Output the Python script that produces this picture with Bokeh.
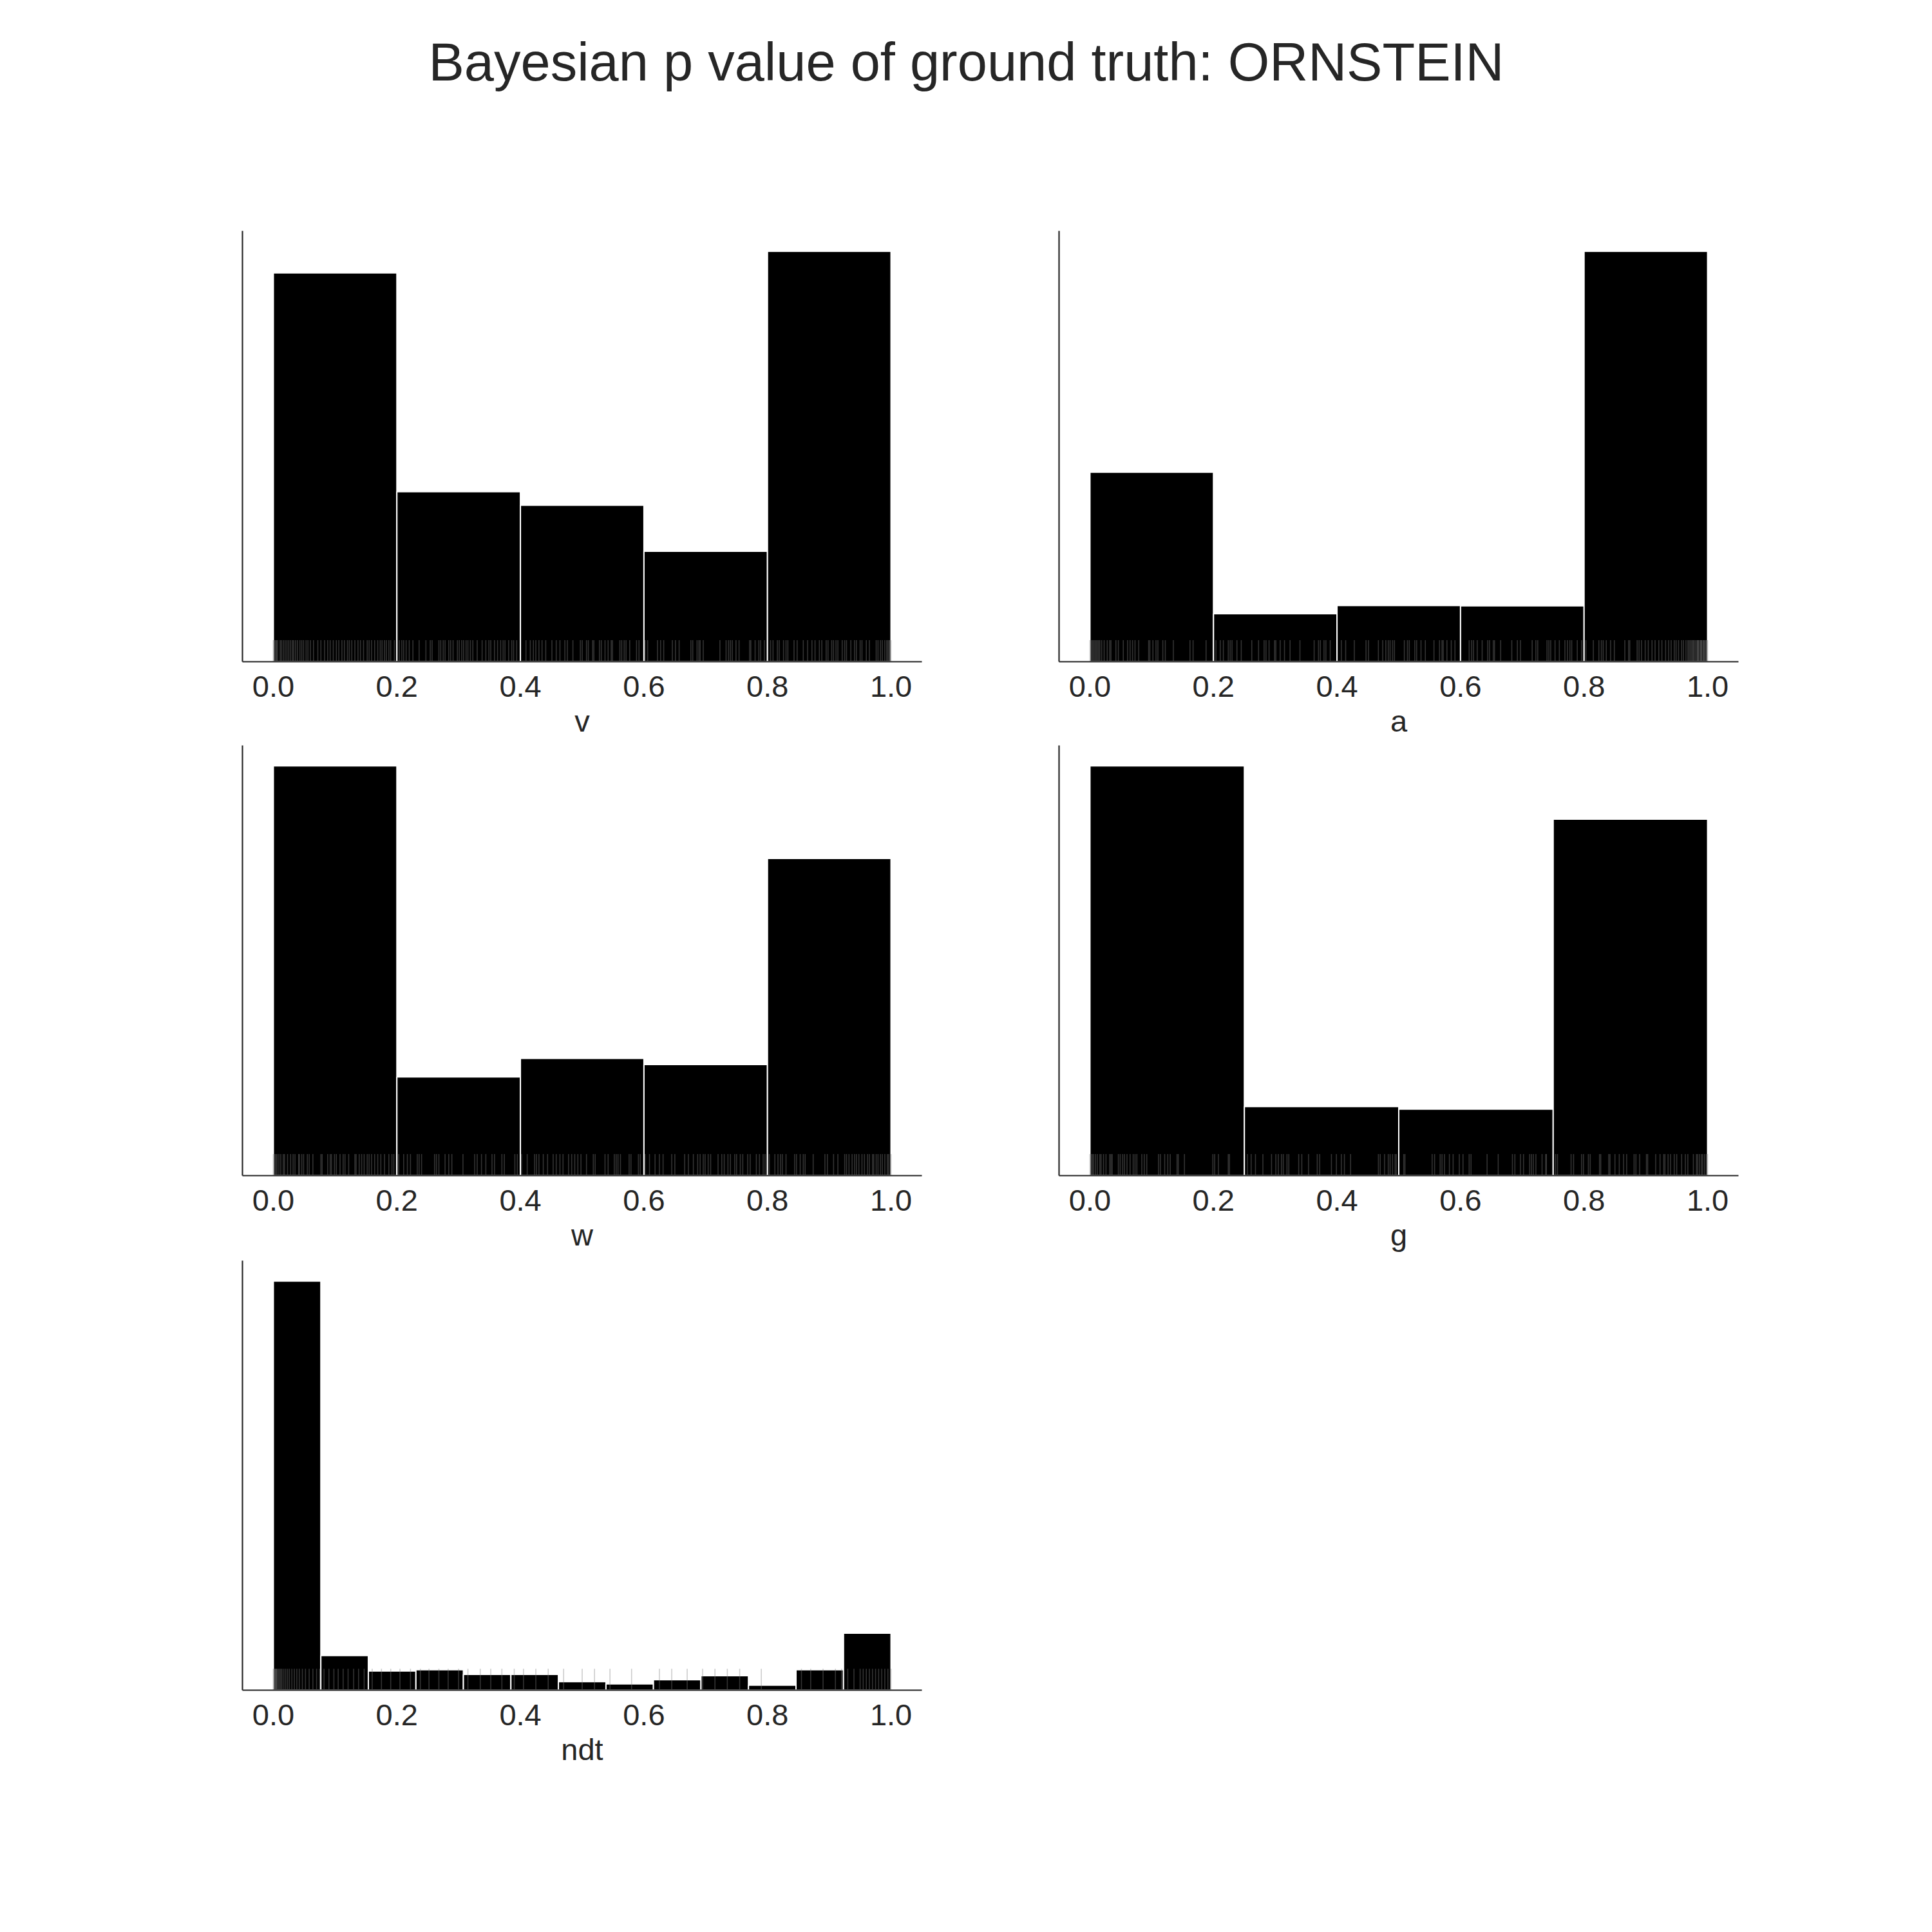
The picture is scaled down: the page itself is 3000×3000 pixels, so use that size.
from bokeh.plotting import figure
from bokeh.layouts import column, row
from bokeh.models import FixedTicker, PrintfTickFormatter, Spacer, Range1d
from bokeh.core.properties import value
from bokeh.embed import file_html
from bokeh.resources import INLINE

TITLE = "Bayesian p value of ground truth: ORNSTEIN"
X_TICKS = [0.0, 0.2, 0.4, 0.6, 0.8, 1.0]

# ---- histogram data (density) ----
v_edges = [0.0, 0.2, 0.4, 0.6, 0.8, 1.0]
v_density = [1.573, 0.688, 0.633, 0.447, 1.660]

a_edges = [0.0, 0.2, 0.4, 0.6, 0.8, 1.0]
a_density = [1.247, 0.316, 0.370, 0.368, 2.700]

w_edges = [0.0, 0.2, 0.4, 0.6, 0.8, 1.0]
w_density = [1.944, 0.468, 0.556, 0.527, 1.505]

g_edges = [0.0, 0.25, 0.5, 0.75, 1.0]
g_density = [1.817, 0.306, 0.295, 1.581]

ndt_edges = [0.0, 0.0769, 0.1538, 0.2308, 0.3077, 0.3846, 0.4615, 0.5385,
             0.6154, 0.6923, 0.7692, 0.8462, 0.9231, 1.0]
ndt_density = [8.344, 0.707, 0.390, 0.417, 0.323, 0.323, 0.175, 0.128,
               0.215, 0.296, 0.101, 0.417, 1.164]

# ---- rug data (individual p values) ----
v_rug = [0.000, 0.001, 0.002, 0.004, 0.005, 0.007, 0.011, 0.013, 0.016, 0.019, 0.022, 0.025,
         0.028, 0.031, 0.033, 0.036, 0.039, 0.043, 0.046, 0.049, 0.053, 0.056, 0.060, 0.065,
         0.072, 0.077, 0.083, 0.088, 0.092, 0.097, 0.102, 0.106, 0.111, 0.115, 0.120, 0.123,
         0.127, 0.132, 0.137, 0.141, 0.146, 0.152, 0.155, 0.159, 0.164, 0.169, 0.173, 0.176,
         0.180, 0.183, 0.187, 0.190, 0.196, 0.201, 0.204, 0.208, 0.211, 0.215, 0.220, 0.226,
         0.236, 0.247, 0.254, 0.257, 0.268, 0.271, 0.275, 0.278, 0.284, 0.287, 0.291, 0.298,
         0.301, 0.305, 0.308, 0.312, 0.315, 0.319, 0.323, 0.330, 0.338, 0.344, 0.349, 0.352,
         0.358, 0.363, 0.368, 0.372, 0.375, 0.381, 0.386, 0.389, 0.394, 0.409, 0.416, 0.421,
         0.425, 0.430, 0.435, 0.441, 0.451, 0.458, 0.464, 0.472, 0.476, 0.485, 0.497, 0.500,
         0.507, 0.510, 0.517, 0.519, 0.528, 0.531, 0.537, 0.542, 0.547, 0.549, 0.561, 0.564,
         0.568, 0.571, 0.577, 0.588, 0.592, 0.602, 0.606, 0.622, 0.627, 0.632, 0.646, 0.651,
         0.657, 0.676, 0.679, 0.686, 0.689, 0.691, 0.696, 0.723, 0.733, 0.737, 0.740, 0.743,
         0.749, 0.754, 0.771, 0.773, 0.780, 0.786, 0.789, 0.795, 0.805, 0.809, 0.816, 0.819,
         0.826, 0.830, 0.833, 0.843, 0.848, 0.858, 0.865, 0.872, 0.877, 0.884, 0.888, 0.895,
         0.898, 0.904, 0.907, 0.911, 0.914, 0.921, 0.925, 0.928, 0.935, 0.941, 0.944, 0.950,
         0.953, 0.960, 0.965, 0.976, 0.979, 0.983, 0.986, 0.990, 0.993, 0.995, 0.997, 0.998,
         1.000]

a_rug = [0.000, 0.002, 0.004, 0.006, 0.008, 0.010, 0.012, 0.014, 0.016, 0.019, 0.023, 0.028,
         0.032, 0.034, 0.042, 0.046, 0.054, 0.061, 0.065, 0.069, 0.073, 0.079, 0.095, 0.097,
         0.102, 0.107, 0.110, 0.118, 0.122, 0.135, 0.162, 0.167, 0.188, 0.204, 0.211, 0.216,
         0.224, 0.227, 0.230, 0.238, 0.245, 0.262, 0.273, 0.282, 0.285, 0.290, 0.299, 0.301,
         0.308, 0.315, 0.324, 0.340, 0.363, 0.370, 0.373, 0.379, 0.382, 0.389, 0.407, 0.414,
         0.428, 0.447, 0.451, 0.467, 0.474, 0.479, 0.483, 0.486, 0.490, 0.493, 0.509, 0.514,
         0.517, 0.526, 0.529, 0.536, 0.543, 0.557, 0.566, 0.570, 0.572, 0.578, 0.585, 0.591,
         0.614, 0.618, 0.621, 0.627, 0.635, 0.644, 0.647, 0.653, 0.655, 0.665, 0.683, 0.692,
         0.697, 0.716, 0.722, 0.725, 0.740, 0.743, 0.746, 0.753, 0.760, 0.769, 0.773, 0.777,
         0.780, 0.789, 0.796, 0.803, 0.815, 0.824, 0.828, 0.831, 0.836, 0.843, 0.849, 0.866,
         0.872, 0.874, 0.886, 0.889, 0.893, 0.899, 0.904, 0.910, 0.915, 0.921, 0.926, 0.932,
         0.937, 0.941, 0.946, 0.949, 0.953, 0.958, 0.961, 0.965, 0.968, 0.970, 0.972, 0.974,
         0.976, 0.977, 0.979, 0.981, 0.983, 0.984, 0.985, 0.986, 0.988, 0.989, 0.990, 0.991,
         0.993, 0.994, 0.995, 0.997, 0.998, 0.999, 1.000]

w_rug = [0.000, 0.002, 0.004, 0.006, 0.009, 0.012, 0.016, 0.018, 0.023, 0.028, 0.032, 0.035,
         0.041, 0.042, 0.046, 0.049, 0.055, 0.058, 0.064, 0.077, 0.079, 0.088, 0.092, 0.094,
         0.099, 0.102, 0.108, 0.113, 0.116, 0.122, 0.132, 0.134, 0.139, 0.143, 0.147, 0.152,
         0.155, 0.159, 0.164, 0.169, 0.174, 0.180, 0.187, 0.192, 0.195, 0.203, 0.211, 0.217,
         0.222, 0.233, 0.236, 0.240, 0.261, 0.264, 0.268, 0.278, 0.284, 0.289, 0.307, 0.326,
         0.330, 0.337, 0.344, 0.354, 0.358, 0.370, 0.374, 0.391, 0.395, 0.402, 0.411, 0.423,
         0.426, 0.430, 0.437, 0.444, 0.453, 0.458, 0.464, 0.469, 0.478, 0.483, 0.488, 0.493,
         0.498, 0.507, 0.518, 0.521, 0.537, 0.542, 0.552, 0.555, 0.558, 0.562, 0.576, 0.579,
         0.591, 0.594, 0.602, 0.609, 0.618, 0.625, 0.631, 0.645, 0.650, 0.666, 0.672, 0.680,
         0.687, 0.691, 0.696, 0.699, 0.704, 0.708, 0.720, 0.726, 0.730, 0.736, 0.740, 0.747,
         0.750, 0.756, 0.760, 0.768, 0.772, 0.782, 0.787, 0.793, 0.796, 0.803, 0.812, 0.817,
         0.821, 0.824, 0.830, 0.844, 0.847, 0.853, 0.858, 0.861, 0.874, 0.893, 0.897, 0.907,
         0.914, 0.925, 0.928, 0.932, 0.937, 0.941, 0.944, 0.948, 0.953, 0.957, 0.962, 0.965,
         0.970, 0.972, 0.976, 0.979, 0.983, 0.986, 0.990, 0.994, 0.996, 0.999, 1.000]

g_rug = [0.000, 0.002, 0.004, 0.006, 0.009, 0.012, 0.016, 0.018, 0.022, 0.026, 0.032, 0.034,
         0.036, 0.046, 0.049, 0.053, 0.056, 0.060, 0.065, 0.070, 0.073, 0.076, 0.084, 0.088,
         0.092, 0.111, 0.114, 0.121, 0.126, 0.130, 0.141, 0.143, 0.153, 0.199, 0.202, 0.208,
         0.224, 0.226, 0.255, 0.261, 0.268, 0.280, 0.294, 0.301, 0.305, 0.310, 0.313, 0.319,
         0.322, 0.338, 0.343, 0.354, 0.368, 0.372, 0.391, 0.399, 0.407, 0.412, 0.422, 0.467,
         0.470, 0.477, 0.483, 0.486, 0.490, 0.494, 0.496, 0.508, 0.510, 0.554, 0.558, 0.567,
         0.570, 0.574, 0.582, 0.588, 0.598, 0.604, 0.614, 0.617, 0.643, 0.661, 0.684, 0.688,
         0.697, 0.702, 0.712, 0.715, 0.718, 0.722, 0.732, 0.738, 0.739, 0.754, 0.757, 0.779,
         0.783, 0.796, 0.799, 0.807, 0.810, 0.825, 0.827, 0.840, 0.842, 0.850, 0.857, 0.864,
         0.869, 0.881, 0.884, 0.890, 0.901, 0.903, 0.916, 0.923, 0.929, 0.931, 0.936, 0.940,
         0.946, 0.950, 0.958, 0.964, 0.968, 0.977, 0.982, 0.984, 0.987, 0.990, 0.992, 0.995,
         0.998, 1.000]

ndt_rug = [0.000, 0.001, 0.002, 0.003, 0.004, 0.005, 0.006, 0.008, 0.010, 0.012, 0.014, 0.017,
           0.020, 0.023, 0.026, 0.030, 0.034, 0.038, 0.042, 0.047, 0.052, 0.058, 0.064, 0.070,
           0.075, 0.082, 0.090, 0.098, 0.105, 0.113, 0.121, 0.130, 0.138, 0.147, 0.160, 0.175,
           0.190, 0.205, 0.222, 0.238, 0.252, 0.268, 0.283, 0.300, 0.315, 0.335, 0.352, 0.370,
           0.390, 0.405, 0.425, 0.445, 0.470, 0.500, 0.520, 0.545, 0.580, 0.625, 0.645, 0.670,
           0.695, 0.715, 0.735, 0.755, 0.790, 0.855, 0.870, 0.890, 0.910, 0.920, 0.930, 0.940,
           0.950, 0.955, 0.960, 0.965, 0.970, 0.975, 0.980, 0.985, 0.990, 0.995, 1.000]

TEXT = "#262626"
FONT = "Liberation Sans"


def make_panel(label, edges, dens, rug, width, height, bl, br, bt, bb):
    top = max(dens) * 1.05
    p = figure(width=width, height=height, output_backend="svg", toolbar_location=None,
               x_range=Range1d(-0.05, 1.05), y_range=Range1d(0, top),
               min_border_left=bl, min_border_right=br, min_border_top=bt, min_border_bottom=bb)
    p.quad(left=edges[:-1], right=edges[1:], bottom=0, top=dens,
           fill_color="black", line_color="white", line_width=2)
    p.segment(x0=rug, y0=0, x1=rug, y1=0.05 * top,
              line_color="#808080", line_alpha=0.4, line_width=1.6)
    p.grid.visible = False
    p.outline_line_color = None
    p.background_fill_color = "white"

    xa = p.xaxis[0]
    xa.ticker = FixedTicker(ticks=X_TICKS)
    xa.formatter = PrintfTickFormatter(format="%.1f")
    xa.major_tick_out = 0
    xa.major_tick_in = 0
    xa.minor_tick_out = 0
    xa.minor_tick_in = 0
    xa.axis_line_color = TEXT
    xa.axis_line_width = 2.2
    xa.major_label_text_font = FONT
    xa.major_label_text_font_size = "47px"
    xa.major_label_text_color = TEXT
    xa.major_label_text_line_height = 1.0
    xa.major_label_standoff = 22
    xa.axis_label = label
    xa.axis_label_text_font = FONT
    xa.axis_label_text_font_size = "47px"
    xa.axis_label_text_font_style = "normal"
    xa.axis_label_text_color = TEXT
    xa.axis_label_text_line_height = 1.0
    xa.axis_label_standoff = 8

    ya = p.yaxis[0]
    ya.ticker = FixedTicker(ticks=[])
    ya.major_tick_out = 0
    ya.major_tick_in = 0
    ya.minor_tick_out = 0
    ya.minor_tick_in = 0
    ya.major_label_text_font_size = "0px"
    ya.axis_line_color = TEXT
    ya.axis_line_width = 2.2
    return p


# column 1 frame: x 376-1431 ; column 2 frame: x 1644-2699
C1 = dict(width=1500, bl=376, br=69)
C2 = dict(width=1500, bl=144, br=301)
R1 = dict(height=957, bt=158, bb=130)
R2 = dict(height=800, bt=0, bb=132)
R3 = dict(height=843, bt=0, bb=176)

p_v = make_panel("v", v_edges, v_density, v_rug, **C1, **R1)
p_a = make_panel("a", a_edges, a_density, a_rug, **C2, **R1)
p_w = make_panel("w", w_edges, w_density, w_rug, **C1, **R2)
p_g = make_panel("g", g_edges, g_density, g_rug, **C2, **R2)
p_n = make_panel("ndt", ndt_edges, ndt_density, ndt_rug, **C1, **R3)

t = figure(width=3000, height=200, output_backend="svg", toolbar_location=None,
           x_range=Range1d(0, 3000), y_range=Range1d(0, 200),
           x_axis_type=None, y_axis_type=None, min_border=0)
t.grid.visible = False
t.outline_line_color = None
t.text(x=[1500], y=[104], text=[TITLE], text_align="center", text_baseline="alphabetic",
       text_font=value(FONT), text_font_size="83px", text_color=TEXT)

layout = column(t, row(p_v, p_a), row(p_w, p_g), row(p_n, Spacer(width=1500, height=843)))

open("out.html", "w").write(file_html(layout, INLINE))
